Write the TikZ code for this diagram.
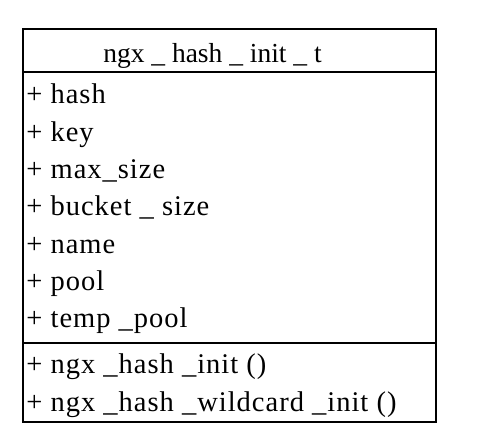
\documentclass[tikz,border=0pt]{standalone}
\usepackage{fontspec}
\setmainfont{Liberation Serif}
\newfontfamily\memberfont[LetterSpace=3.5]{Liberation Serif}

\begin{document}
\begin{tikzpicture}[x=1pt, y=-1pt, line width=2.8pt,
  member/.style={anchor=base west, inner sep=0pt, font=\memberfont\fontsize{28.5}{32}\selectfont}]
  \useasboundingbox (0, 0) rectangle (497, 444);

  \draw (23, 29) rectangle (436, 422);
  \draw (23, 72) -- (436, 72);
  \draw (23, 343) -- (436, 343);

  \node[anchor=base, inner sep=0pt, font=\fontsize{27.5}{31}\selectfont] (title) at (212.5, 62) {ngx \_ hash \_ init \_ t};

  \node[member] (hash) at (25, 103) {+ hash};
  \node[member] (key) at (25, 141) {+ key};
  \node[member] (maxsize) at (25, 178) {+ max\_size};
  \node[member] (bucketsize) at (25, 215) {+ bucket \_ size};
  \node[member] (name) at (25, 253) {+ name};
  \node[member] (pool) at (25, 290) {+ pool};
  \node[member] (temppool) at (25, 327) {+ temp \_pool};

  \node[member] (hashinit) at (25, 373) {+ ngx \_hash \_init ()};
  \node[member] (wildcardinit) at (25, 411) {+ ngx \_hash \_wildcard \_init ()};
\end{tikzpicture}
\end{document}
